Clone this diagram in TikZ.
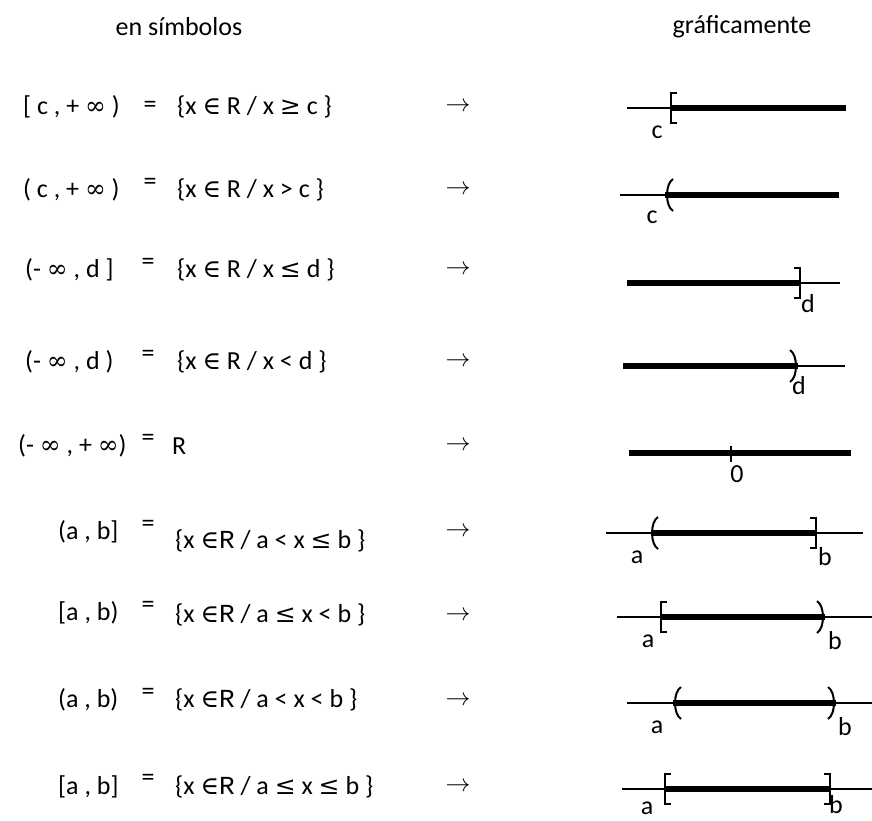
\documentclass[tikz,border=0pt]{standalone}
\usepackage{fontspec}
\setmainfont{Carlito}
\newfontfamily\monof{Liberation Mono}
\newfontfamily\symf{DejaVu Serif}
\usetikzlibrary{positioning}

% signs of the symbols column
\newcommand{\symb}[1]{{\symf\fontsize{25}{28}\selectfont #1}}

% end marks of an interval, placed with a shift
\newcommand{\sqL}[1]{\draw[endmark, shift={(#1)}] (6,-15) -- (0,-15) -- (0,15) -- (6,15);}
\newcommand{\sqR}[1]{\draw[endmark, shift={(#1)}] (-6,-15) -- (0,-15) -- (0,15) -- (-6,15);}
\newcommand{\rdL}[1]{\draw[endmark, shift={(#1)}] (8,-16) .. controls (0,-11) and (0,11) .. (8,16);}
\newcommand{\rdR}[1]{\draw[endmark, shift={(#1)}] (-8,-16) .. controls (0,-11) and (0,11) .. (-8,16);}

\begin{document}
\begin{tikzpicture}[
        x=1pt, y=-1pt,
        every node/.style={inner sep=0pt, font=\fontsize{26}{30}\selectfont},
        sym/.style={anchor=west},
        eqsign/.style={anchor=center},
        setnode/.style={anchor=west},
        arrnode/.style={anchor=center, font=\fontsize{23}{26}\selectfont},
        lbl/.style={anchor=center},
        thinline/.style={line width=1.5pt},
        thickline/.style={line width=5.5pt},
        endmark/.style={line width=2pt}
    ]
    \useasboundingbox (0,0) rectangle (872,820);

    \node (head1) at (179,27) {en símbolos};
    \node (head2) at (742,27) {gráficamente};

    % symbols column
    \node[sym] (sym1) at (23,107) {[ c , + \symb{∞} )};
    \node[sym] (sym2) at (23,190) {( c , + \symb{∞} )};
    \node[sym] (sym3) at (25,270) {(- \symb{∞} , d ]};
    \node[sym] (sym4) at (25,362) {(- \symb{∞} , d )};
    \node[sym] (sym5) at (18,446) {(- \symb{∞} , + \symb{∞})};
    \node[sym] (sym6) at (58,532) {(a , b]};
    \node[sym] (sym7) at (58,613) {[a , b)};
    \node[sym] (sym8) at (58,700) {(a , b)};
    \node[sym] (sym9) at (58,787) {[a , b]};

    \node[eqsign] (eq1) at (150,107) {=};
    \node[eqsign] (eq2) at (150,184) {=};
    \node[eqsign] (eq3) at (148,264) {=};
    \node[eqsign] (eq4) at (148,356) {=};
    \node[eqsign] (eq5) at (148,440) {=};
    \node[eqsign] (eq6) at (148,526) {=};
    \node[eqsign] (eq7) at (148,607) {=};
    \node[eqsign] (eq8) at (148,694) {=};
    \node[eqsign] (eq9) at (148,780) {=};

    \node[setnode] (set1) at (177,107) {\{x \symb{∈} R / x \symb{≥} c \}};
    \node[setnode] (set2) at (177,190) {\{x \symb{∈} R / x > c \}};
    \node[setnode] (set3) at (177,270) {\{x \symb{∈} R / x \symb{≤} d \}};
    \node[setnode] (set4) at (177,362) {\{x \symb{∈} R / x < d \}};
    \node[setnode] (set5) at (172,446) {R};
    \node[setnode] (set6) at (175,541) {\{x \symb{∈}{\monof R} / a < x \symb{≤} b \}};
    \node[setnode] (set7) at (175,615) {\{x \symb{∈}{\monof R} / a \symb{≤} x < b \}};
    \node[setnode] (set8) at (175,700) {\{x \symb{∈}{\monof R} / a < x < b \}};
    \node[setnode] (set9) at (175,787) {\{x \symb{∈}{\monof R} / a \symb{≤} x \symb{≤} b \}};

    \foreach \r/\y in {1/107, 2/190, 3/270, 4/362, 5/446, 6/532, 7/616, 8/701, 9/787}
        \node[arrnode] (arr\r) at (458,\y) {$\rightarrow$};

    % [c, +inf)
    \draw[thinline] (627,108) -- (671,108);
    \draw[thickline] (671,108) -- (846,108);
    \sqL{671,108}
    \node[lbl] (c1) at (657,132) {c};

    % (c, +inf)
    \draw[thinline] (620,195) -- (665,195);
    \draw[thickline] (665,195) -- (839,195);
    \rdL{665,195}
    \node[lbl] (c2) at (652,217) {c};

    % (-inf, d]
    \draw[thickline] (627,283) -- (800,283);
    \draw[thinline] (800,283) -- (840,283);
    \sqR{800,283}
    \node[lbl] (d3) at (808,304) {d};

    % (-inf, d)
    \draw[thickline] (623,366) -- (798,366);
    \draw[thinline] (798,366) -- (845,366);
    \rdR{798,366}
    \node[lbl] (d4) at (799,386) {d};

    % R
    \draw[thickline] (629,453) -- (851,453);
    \draw[thinline] (731,446) -- (731,462);
    \node[lbl] (zero) at (737,474) {0};

    % (a, b]
    \draw[thinline] (606,533) -- (863,533);
    \draw[thickline] (652,533) -- (816,533);
    \rdL{650,533}
    \sqR{816,533}
    \node[lbl] (a6) at (637,557) {a};
    \node[lbl] (b6) at (825,557) {b};

    % [a, b)
    \draw[thinline] (617,617) -- (872,617);
    \draw[thickline] (661,617) -- (825,617);
    \sqL{661,617}
    \rdR{825,617}
    \node[lbl] (a7) at (648,641) {a};
    \node[lbl] (b7) at (835,641) {b};

    % (a, b)
    \draw[thinline] (627,703) -- (872,703);
    \draw[thickline] (673,703) -- (836,703);
    \rdL{673,703}
    \rdR{836,703}
    \node[lbl] (a8) at (657,727) {a};
    \node[lbl] (b8) at (845,727) {b};

    % [a, b]
    \draw[thinline] (622,789) -- (872,789);
    \draw[thickline] (665,789) -- (830,789);
    \sqL{665,789}
    \sqR{830,789}
    \node[lbl] (a9) at (647,808) {a};
    \node[lbl] (b9) at (836,805) {b};
\end{tikzpicture}
\end{document}
